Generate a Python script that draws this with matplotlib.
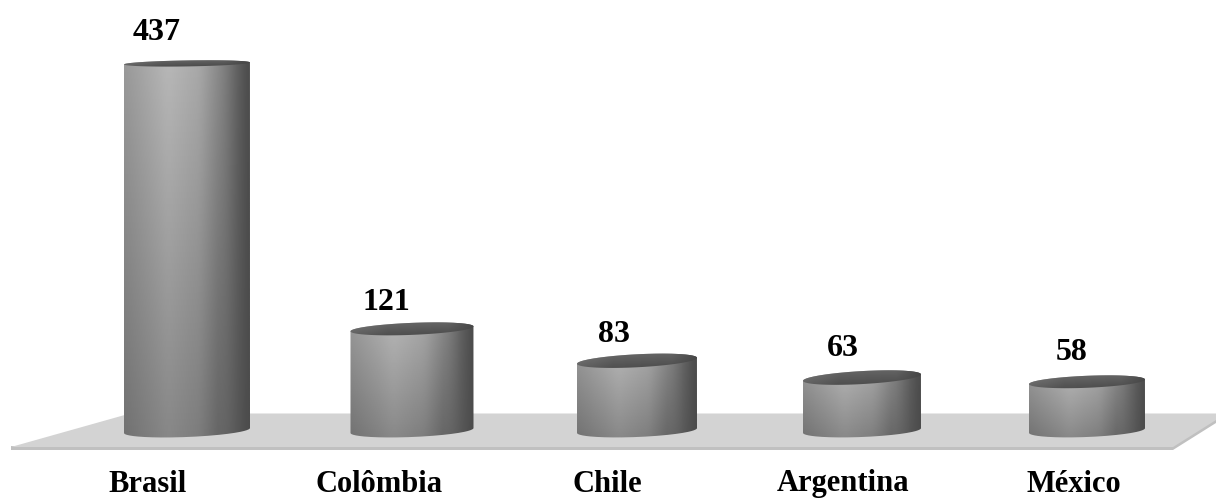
import numpy as np
import matplotlib
matplotlib.use("Agg")
import matplotlib.pyplot as plt
from matplotlib.patches import Polygon, PathPatch
from matplotlib.path import Path

categories = ["Brasil", "Colômbia", "Chile", "Argentina", "México"]
values = [437, 121, 83, 63, 58]

W, H = 1216, 499
# pixels per category step and per unit of value
STEP = 225.0
PX_PER_UNIT = 0.84
X0 = 187.0
BASE_Y = 430.5

# cylinders get a bit narrower and rounder going right
widths = [126, 123, 120, 118, 116]
top_b = [3.0, 6.0, 6.5, 6.5, 6.0]
top_tilt = [0.016, 0.04, 0.05, 0.055, 0.04]
bot_b = 6.5
bot_tilt = 0.04

# label positions in pixels
value_px_x = [157, 386, 614, 843, 1072]
value_px_y = [32, 303, 335, 349, 353]
cat_px_x = [148, 379, 607, 843, 1074]
cat_baseline = 491.5

fig = plt.figure(figsize=(W / 100, H / 100), dpi=100)
ax = fig.add_axes([0, 0, 1, 1])
ax.set_xlim(-X0 / STEP, (W - X0) / STEP)
ax.set_ylim((BASE_Y - H) / PX_PER_UNIT, BASE_Y / PX_PER_UNIT)
ax.axis("off")

dx = 1 / STEP
dy = 1 / PX_PER_UNIT


def px(x, y):
    return (x - X0) * dx, (BASE_Y - y) * dy


# grey floor the cylinders stand on
edge = [px(11, 450), px(1173, 450), px(1216, 423), px(1216, 419), px(1173, 446), px(11, 446)]
floor = [px(11, 447), px(130, 413.5), px(1216, 413.5), px(1216, 420), px(1173, 447)]
ax.add_patch(Polygon(edge, closed=True, fc="#c0c0c0", ec="none", zorder=1))
ax.add_patch(Polygon(floor, closed=True, fc="#d3d3d3", ec="none", zorder=2))


def arc(cx, v, a, b, slope, t0, t1, n=80):
    t = np.linspace(t0, t1, n)
    x = a * np.cos(t)
    y = b * np.sin(t) + slope * x
    return cx + x * dx, v + y * dy


def body_shade(nx, ny):
    # highlight left of centre, getting darker towards the floor
    u = np.linspace(0, 1, nx)
    prof = np.interp(u, [0, 0.35, 0.6, 0.8, 0.92, 1.0],
                     [0.60, 0.72, 0.66, 0.50, 0.36, 0.29])
    kernel = np.ones(9) / 9
    prof = np.convolve(np.pad(prof, 4, mode="edge"), kernel, mode="valid")
    vert = np.linspace(0.74, 1.0, ny)[:, None]
    keep = np.interp(u, [0, 0.75, 1.0], [1.0, 1.0, 0.0])[None, :]
    return prof[None, :] * (vert * keep + (1 - keep))


def lid_shade(nx, ny):
    # dark top face, lighter along the near rim and on the left
    u = np.interp(np.linspace(0, 1, nx), [0, 0.3, 1], [0.37, 0.30, 0.28])
    v = np.linspace(0.12, 0, ny)[:, None]
    return u[None, :] + v * np.interp(np.linspace(0, 1, nx), [0, 0.8, 1], [1, 1, 0])[None, :]


for i, (name, val) in enumerate(zip(categories, values)):
    a_px = widths[i] / 2
    a = a_px * dx
    # lower front edge of the foot, then back along the top rim
    bx, by = arc(i, 0, a_px, bot_b, bot_tilt, np.pi, 2 * np.pi)
    tx, ty = arc(i, val, a_px, top_b[i], top_tilt[i], 0, np.pi)
    verts = np.column_stack([np.r_[bx, tx], np.r_[by, ty]])
    clip = PathPatch(Path(np.vstack([verts, verts[0]])), transform=ax.transData,
                     fc="none", ec="none")
    ax.add_patch(clip)
    ext = [i - a, i + a, -bot_b * 1.5 * dy, val + top_b[i] * 2 * dy]
    im = ax.imshow(body_shade(128, 64), cmap="gray", vmin=0, vmax=1, extent=ext,
                   origin="lower", aspect="auto", interpolation="bilinear", zorder=3)
    im.set_clip_path(clip)

    # top face of the cylinder
    ex, ey = arc(i, val, a_px, top_b[i], top_tilt[i], 0, 2 * np.pi)
    lid = PathPatch(Path(np.column_stack([ex, ey])), transform=ax.transData,
                    fc="none", ec="none")
    ax.add_patch(lid)
    reach = (top_b[i] + abs(top_tilt[i]) * a_px) * dy
    lim = ax.imshow(lid_shade(64, 32), cmap="gray", vmin=0, vmax=1,
                    extent=[i - a, i + a, val - reach, val + reach], origin="upper",
                    aspect="auto", interpolation="bilinear", zorder=4)
    lim.set_clip_path(lid)

    ax.text(*px(value_px_x[i], value_px_y[i]), str(val), ha="center", va="center",
            family="Liberation Serif", weight="bold", fontsize=23, color="black", zorder=5)
    ax.text(*px(cat_px_x[i], cat_baseline), name, ha="center", va="baseline",
            family="Liberation Serif", weight="bold", fontsize=22, color="black", zorder=5)

ax.set_xlim(-X0 / STEP, (W - X0) / STEP)
ax.set_ylim((BASE_Y - H) / PX_PER_UNIT, BASE_Y / PX_PER_UNIT)
fig.savefig("out.png", dpi=100)
